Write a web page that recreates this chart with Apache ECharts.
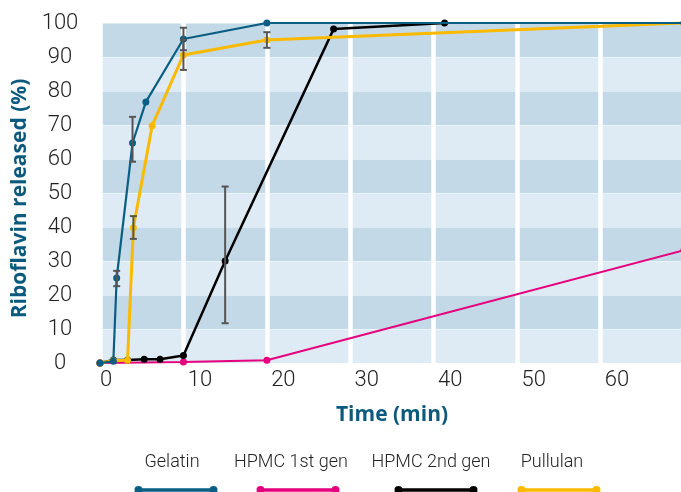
<!DOCTYPE html>
<html><head><meta charset="utf-8">
<script src="https://cdn.jsdelivr.net/npm/echarts@6/dist/echarts.min.js"></script>
<style>html,body{margin:0;padding:0;background:#fff}#c{width:681px;height:492px}</style>
</head><body><div id="c"></div>
<script>
// ---- data ----
const seriesNames = ['Gelatin', 'HPMC 1st gen', 'HPMC 2nd gen', 'Pullulan'];
const seriesColors = ['#0a5e83', '#e5007d', '#000000', '#fbb900'];

const gelatinT = [0, 1.6, 2, 3.9, 5.5, 10, 20, 70];
const gelatinV = [0, 0.5, 25, 64.7, 76.8, 95.3, 100, 100];
const hpmc1T = [0, 10, 20, 70];
const hpmc1V = [0, 0.3, 0.8, 33.2];
const hpmc2T = [0, 1.6, 3.3, 5.3, 7.2, 10, 15, 28, 41.3];
const hpmc2V = [0, 0.9, 0.9, 1.1, 1.1, 2.2, 30, 98.2, 100];
const pullulanT = [0, 1.6, 3.3, 4, 6.25, 10, 20, 70];
const pullulanV = [0, 0.7, 0.8, 39.8, 69.8, 90.6, 95, 100];

// error bars: time, low, high
const errT = [2, 3.9, 10, 4, 10, 20, 15];
const errLow = [22.6, 59.2, 92.0, 36.5, 86.2, 92.7, 11.7];
const errHigh = [27.1, 72.4, 98.6, 43.2, 95.0, 97.3, 51.9];

const xTicks = [0, 10, 20, 30, 40, 50, 60];
const yTicks = [0, 10, 20, 30, 40, 50, 60, 70, 80, 90, 100];

// legend layout
const legendLineCenters = [171, 293, 431, 554];
const legendTextCenters = [172, 291, 431, 552];

const zip = (t, v) => t.map((x, i) => [x, v[i]]);
const seriesData = [zip(gelatinT, gelatinV), zip(hpmc1T, hpmc1V), zip(hpmc2T, hpmc2V), zip(pullulanT, pullulanV)];
const lineWidths = [2.2, 2, 2.5, 3];
const zs = [5, 2, 3, 4];

const tickFont = 'Roboto';
const chart = echarts.init(document.getElementById('c'), null, {renderer: 'canvas'});

const iconPath = 'path://M0,4A4,4 0 1,1 8,4A4,4 0 1,1 0,4Z M75,4A4,4 0 1,1 83,4A4,4 0 1,1 75,4Z M6,2.3L77,2.3L77,5.7L6,5.7Z';

const legends = [];
seriesNames.forEach((n, i) => {
  legends.push({
    data: [n], top: 481, left: legendLineCenters[i] - 41.5,
    icon: iconPath, itemWidth: 83, itemHeight: 8,
    formatter: () => '', selectedMode: false,
    itemStyle: {borderWidth: 0}, lineStyle: {width: 0}
  });
  legends.push({
    data: [n], top: 448, left: legendTextCenters[i] - 80 - 10,
    itemWidth: 0, itemHeight: 0, icon: 'rect', selectedMode: false,
    formatter: name => '{t|' + name + '}',
    textStyle: {rich: {t: {width: 160, align: 'center', fontFamily: tickFont, fontWeight: 300, fontSize: 18, color: '#222'}}}
  });
});

const lineSeries = seriesNames.map((n, i) => ({
  name: n, type: 'line', data: seriesData[i], z: zs[i],
  symbol: 'circle', symbolSize: 7, showSymbol: true,
  color: seriesColors[i],
  lineStyle: {width: lineWidths[i], color: seriesColors[i]},
  itemStyle: {color: seriesColors[i]},
  emphasis: {disabled: true}, animation: false
}));

const errSeries = {
  type: 'custom', z: 6, animation: false,
  data: errT.map((t, i) => [t, errLow[i], errHigh[i]]),
  renderItem: (params, api) => {
    const lo = api.coord([api.value(0), api.value(1)]);
    const hi = api.coord([api.value(0), api.value(2)]);
    const w = 3.5;
    const st = {stroke: '#555', lineWidth: 2, fill: null};
    return {type: 'group', children: [
      {type: 'line', shape: {x1: lo[0], y1: lo[1], x2: hi[0], y2: hi[1]}, style: st},
      {type: 'line', shape: {x1: lo[0] - w, y1: lo[1], x2: lo[0] + w, y2: lo[1]}, style: st},
      {type: 'line', shape: {x1: hi[0] - w, y1: hi[1], x2: hi[0] + w, y2: hi[1]}, style: st}
    ]};
  },
  encode: {x: 0, y: [1, 2]}
};

chart.setOption({
  animation: false,
  grid: {left: 100, top: 23, width: 584, height: 340, containLabel: false, outerBoundsMode: 'none'},
  legend: legends,
  xAxis: {
    type: 'value', min: 0, max: 70, interval: 10, z: 1,
    name: 'Time (min)', nameLocation: 'middle', nameGap: 42,
    nameTextStyle: {fontFamily: 'Open Sans', fontWeight: 'bold', fontSize: 21, color: '#0b5a7d'},
    axisLine: {show: false}, axisTick: {show: false},
    axisLabel: {
      margin: 6,
      formatter: v => xTicks.indexOf(v) < 0 ? '' : (v === 0 ? '{z|0}' : '{n|' + v + '}'),
      rich: {
        z: {padding: [0, 0, 0, 12], fontFamily: tickFont, fontWeight: 300, fontSize: 22, color: '#222'},
        n: {padding: [0, 0, 0, 33], fontFamily: tickFont, fontWeight: 300, fontSize: 22, color: '#222'}
      }
    },
    splitLine: {show: true, lineStyle: {color: '#ffffff', width: 4.5}}
  },
  yAxis: {
    type: 'value', min: 0, max: 100, interval: 10,
    name: 'Riboflavin released (%)', nameLocation: 'middle', nameGap: 65,
    nameTextStyle: {fontFamily: 'Open Sans', fontWeight: 'bold', fontSize: 21, color: '#0b5a7d', padding: [0, 11, 0, 0]},
    axisLine: {show: false}, axisTick: {show: false},
    axisLabel: {
      margin: 40, align: 'center',
      formatter: v => yTicks.indexOf(v) < 0 ? '' : String(v),
      fontFamily: tickFont, fontWeight: 300, fontSize: 22, color: '#222'
    },
    splitLine: {show: true, lineStyle: {color: 'rgba(255,255,255,0.45)', width: 1}},
    splitArea: {show: true, areaStyle: {color: ['#deebf4', '#c3d9e7']}}
  },
  series: lineSeries.concat([errSeries])
});
</script></body></html>
